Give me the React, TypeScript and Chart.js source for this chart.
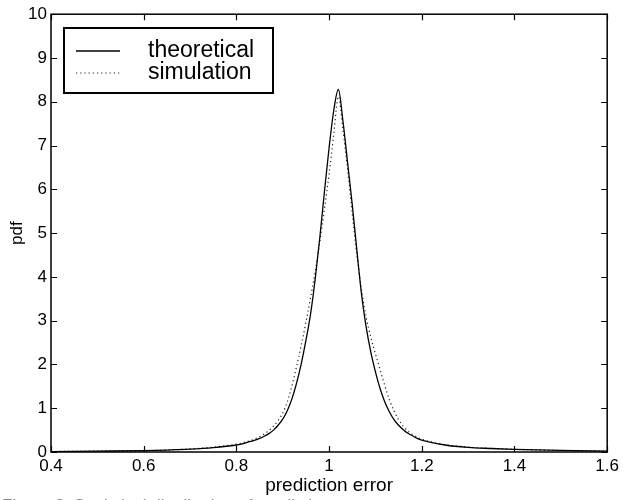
import React, { useEffect, useRef } from "react";
import { Chart, registerables } from "chart.js";

Chart.register(...registerables);

const FONT = '"Liberation Sans", Arial, Helvetica, sans-serif';

// ---- data ----
const xTickValues = [0.4, 0.6, 0.8, 1.0, 1.2, 1.4, 1.6];
const yTickValues = [0, 1, 2, 3, 4, 5, 6, 7, 8, 9, 10];

const theoX = [0.4, 0.5, 0.6, 0.65, 0.7, 0.75, 0.8, 0.81, 0.82, 0.83, 0.84, 0.85, 0.86, 0.87, 0.88, 0.89, 0.9, 0.91, 0.92, 0.93, 0.94, 0.95, 0.96, 0.97, 0.98, 0.99, 1.0, 1.01, 1.02, 1.03, 1.04, 1.05, 1.06, 1.07, 1.08, 1.09, 1.1, 1.11, 1.12, 1.13, 1.14, 1.15, 1.16, 1.17, 1.18, 1.19, 1.2, 1.25, 1.3, 1.35, 1.4, 1.5, 1.6];
const theoY = [0.01, 0.02, 0.03, 0.045, 0.065, 0.1, 0.16, 0.18, 0.21, 0.24, 0.27, 0.31, 0.36, 0.42, 0.5, 0.61, 0.75, 0.95, 1.22, 1.58, 2.02, 2.55, 3.15, 3.95, 4.9, 5.95, 6.95, 7.8, 8.28, 7.55, 6.6, 5.65, 4.6, 3.6, 2.85, 2.28, 1.83, 1.45, 1.15, 0.92, 0.74, 0.61, 0.51, 0.43, 0.37, 0.31, 0.27, 0.16, 0.105, 0.08, 0.06, 0.035, 0.02];

const simX = [0.4, 0.5, 0.6, 0.65, 0.7, 0.75, 0.8, 0.81, 0.82, 0.83, 0.84, 0.85, 0.86, 0.87, 0.88, 0.89, 0.9, 0.91, 0.92, 0.93, 0.94, 0.95, 0.96, 0.97, 0.98, 0.99, 1.0, 1.01, 1.02, 1.03, 1.04, 1.05, 1.06, 1.07, 1.08, 1.09, 1.1, 1.11, 1.12, 1.13, 1.14, 1.15, 1.16, 1.17, 1.18, 1.19, 1.2, 1.25, 1.3, 1.35, 1.4, 1.5, 1.6];
const simY = [0.01, 0.02, 0.03, 0.045, 0.07, 0.11, 0.18, 0.2, 0.23, 0.26, 0.3, 0.35, 0.41, 0.49, 0.59, 0.72, 0.89, 1.15, 1.52, 1.96, 2.44, 2.96, 3.52, 4.12, 4.8, 5.55, 6.35, 7.25, 8.12, 7.35, 6.45, 5.45, 4.5, 3.7, 3.08, 2.62, 2.24, 1.88, 1.52, 1.2, 0.94, 0.74, 0.59, 0.48, 0.4, 0.34, 0.29, 0.17, 0.11, 0.08, 0.06, 0.035, 0.02];

const seriesLabels = ["theoretical", "simulation"];
const xTitle = "prediction error";
const yTitle = "pdf";
const caption = "Figure 3: Statistical distribution of prediction error";

const framePlugin = {
  id: "matlabFrame",
  afterDatasetsDraw(chart: any) {
    const { ctx, chartArea: a, scales } = chart;
    const xs = scales.x;
    const ys = scales.y;
    ctx.save();
    // frame
    ctx.strokeStyle = "#000";
    ctx.lineWidth = 1.5;
    ctx.strokeRect(a.left, a.top, a.right - a.left, a.bottom - a.top);
    // inward ticks on all four sides
    const L = 6;
    ctx.lineWidth = 1.2;
    ctx.beginPath();
    for (const v of xTickValues) {
      const px = Math.round(xs.getPixelForValue(v)) + 0.5;
      ctx.moveTo(px, a.bottom);
      ctx.lineTo(px, a.bottom - L);
      ctx.moveTo(px, a.top);
      ctx.lineTo(px, a.top + L);
    }
    for (const v of yTickValues) {
      const py = Math.round(ys.getPixelForValue(v)) + 0.5;
      ctx.moveTo(a.left, py);
      ctx.lineTo(a.left + L, py);
      ctx.moveTo(a.right, py);
      ctx.lineTo(a.right - L, py);
    }
    ctx.stroke();

    // legend box
    const bx = 64, by = 28, bw = 209, bh = 65;
    ctx.fillStyle = "#fff";
    ctx.fillRect(bx, by, bw, bh);
    ctx.lineWidth = 2;
    ctx.strokeStyle = "#000";
    ctx.strokeRect(bx, by, bw, bh);
    const rows = [51, 73];
    chart.data.datasets.forEach((ds: any, i: number) => {
      const yy = rows[i];
      ctx.beginPath();
      ctx.strokeStyle = ds.borderColor;
      ctx.lineWidth = ds.borderWidth;
      ctx.setLineDash(ds.borderDash || []);
      ctx.moveTo(76, yy);
      ctx.lineTo(120, yy);
      ctx.stroke();
      ctx.setLineDash([]);
      ctx.fillStyle = "#000";
      ctx.font = `23px ${FONT}`;
      ctx.textAlign = "left";
      ctx.textBaseline = "middle";
      ctx.fillText(ds.label, 148, yy);
    });

    // caption (cut off by the bottom edge)
    ctx.fillStyle = "#888";
    ctx.font = `17px ${FONT}`;
    ctx.textAlign = "left";
    ctx.textBaseline = "top";
    ctx.fillText(caption, 2, 498);
    ctx.restore();
  },
};

export default function App() {
  const ref = useRef<HTMLCanvasElement>(null);
  useEffect(() => {
    if (!ref.current) return;
    const chart = new Chart(ref.current, {
      type: "line",
      data: {
        datasets: [
          {
            label: seriesLabels[0],
            data: theoX.map((x, i) => ({ x, y: theoY[i] })),
            borderColor: "#000",
            borderWidth: 1.3,
            pointRadius: 0,
            cubicInterpolationMode: "monotone",
            fill: false,
          },
          {
            label: seriesLabels[1],
            data: simX.map((x, i) => ({ x, y: simY[i] })),
            borderColor: "#222",
            borderWidth: 1.2,
            borderDash: [1.2, 3],
            pointRadius: 0,
            cubicInterpolationMode: "monotone",
            fill: false,
          },
        ],
      },
      options: {
        animation: false,
        responsive: false,
        events: [],
        layout: { padding: { left: 0, top: 10, right: 12, bottom: 0 } },
        plugins: { legend: { display: false }, tooltip: { enabled: false } },
        scales: {
          x: {
            type: "linear",
            min: 0.4,
            max: 1.6,
            afterBuildTicks: (s: any) => {
              s.ticks = xTickValues.map((v) => ({ value: v }));
            },
            afterFit: (s: any) => {
              s.height = 48;
            },
            grid: { display: false, drawTicks: false },
            border: { display: false },
            ticks: {
              padding: 4,
              color: "#000",
              font: { family: FONT, size: 17 },
              maxRotation: 0,
              autoSkip: false,
              callback: (v: any) => String(Number(Number(v).toFixed(1))),
            },
            title: {
              display: true,
              text: xTitle,
              color: "#000",
              font: { family: FONT, size: 19 },
              padding: { top: 0, bottom: 3 },
            },
          },
          y: {
            type: "linear",
            min: 0,
            max: 10,
            afterBuildTicks: (s: any) => {
              s.ticks = yTickValues.map((v) => ({ value: v }));
            },
            afterFit: (s: any) => {
              s.width = 51;
            },
            grid: { display: false, drawTicks: false },
            border: { display: false },
            ticks: {
              padding: 4,
              color: "#000",
              font: { family: FONT, size: 17 },
              autoSkip: false,
            },
            title: {
              display: true,
              text: yTitle,
              color: "#000",
              font: { family: FONT, size: 17 },
              padding: { top: 7, bottom: 0 },
            },
          },
        },
      },
      plugins: [framePlugin],
    });
    return () => chart.destroy();
  }, []);
  return (
    <div style={{ position: "fixed", left: 0, top: 0, width: 623, height: 500, background: "#fff" }}>
      <canvas ref={ref} width={623} height={500} />
    </div>
  );
}
